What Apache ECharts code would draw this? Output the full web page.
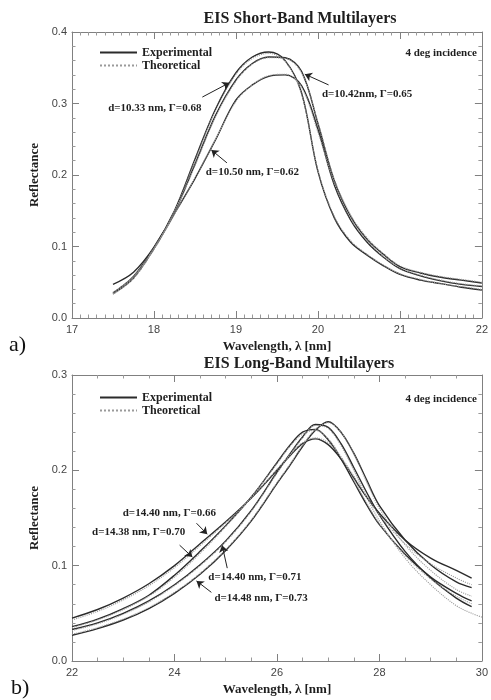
<!DOCTYPE html>
<html>
<head>
<meta charset="utf-8">
<script src="https://cdn.jsdelivr.net/npm/echarts@6/dist/echarts.min.js"></script>
<style>
html,body{margin:0;padding:0;background:#fff;}
#c{width:491px;height:700px;}
</style>
</head>
<body>
<div id="c"></div>
<script>
// ---------- DATA: Short-band (panel a) ----------
const sbWavelength = [17.5,17.75,18,18.25,18.5,18.75,19,19.2,19.4,19.6,19.8,20,20.2,20.4,20.6,20.8,21,21.25,21.5,21.75,22];
const sbExp1033 = [0.047,0.064,0.099,0.150,0.222,0.292,0.343,0.365,0.372,0.360,0.315,0.205,0.140,0.106,0.088,0.073,0.061,0.053,0.048,0.043,0.039];
const sbTh1033  = [0.036,0.058,0.098,0.149,0.220,0.290,0.341,0.363,0.370,0.359,0.313,0.207,0.142,0.108,0.089,0.074,0.062,0.054,0.048,0.044,0.040];
const sbExp1042 = [0.035,0.058,0.098,0.148,0.215,0.283,0.333,0.356,0.365,0.364,0.345,0.272,0.192,0.142,0.110,0.089,0.072,0.063,0.057,0.053,0.049];
const sbTh1042  = [0.034,0.057,0.097,0.147,0.213,0.281,0.331,0.355,0.364,0.363,0.343,0.274,0.194,0.144,0.112,0.090,0.073,0.064,0.058,0.054,0.050];
const sbExp1050 = [0.034,0.056,0.097,0.146,0.195,0.249,0.305,0.326,0.338,0.340,0.325,0.264,0.186,0.137,0.106,0.085,0.069,0.059,0.052,0.047,0.044];
const sbTh1050  = [0.033,0.055,0.096,0.145,0.196,0.250,0.303,0.326,0.339,0.341,0.323,0.260,0.189,0.139,0.108,0.086,0.070,0.060,0.053,0.048,0.045];
const sbXTicks = [17,18,19,20,21,22];
const sbYTicks = [0.0,0.1,0.2,0.3,0.4];

// ---------- DATA: Long-band (panel b) ----------
const lbWavelength = [22,22.5,23,23.5,24,24.5,25,25.5,26,26.25,26.5,26.75,27,27.25,27.5,27.75,28,28.5,29,29.5,29.8,30];
const lbExp066 = [0.045,0.054,0.066,0.081,0.100,0.123,0.146,0.171,0.200,0.215,0.228,0.233,0.227,0.212,0.192,0.172,0.155,0.127,0.108,0.095,0.087];
const lbTh066  = [0.043,0.052,0.064,0.079,0.098,0.121,0.145,0.171,0.201,0.216,0.229,0.234,0.229,0.214,0.194,0.173,0.153,0.123,0.102,0.087,0.080];
const lbExp070 = [0.036,0.044,0.055,0.069,0.090,0.115,0.142,0.172,0.208,0.226,0.240,0.243,0.232,0.212,0.188,0.164,0.143,0.112,0.088,0.071,0.063];
const lbTh070  = [0.035,0.043,0.054,0.068,0.088,0.113,0.141,0.172,0.207,0.225,0.238,0.242,0.233,0.214,0.190,0.166,0.144,0.111,0.086,0.068,0.060];
const lbExp071 = [0.033,0.040,0.050,0.063,0.080,0.101,0.126,0.158,0.198,0.217,0.235,0.248,0.245,0.228,0.203,0.177,0.153,0.115,0.087,0.066,0.057];
const lbTh071  = [0.032,0.039,0.049,0.062,0.079,0.100,0.125,0.157,0.197,0.216,0.234,0.247,0.244,0.226,0.200,0.172,0.147,0.108,0.080,0.058,0.050,0.046];
const lbExp073 = [0.027,0.034,0.043,0.055,0.071,0.091,0.116,0.147,0.186,0.205,0.225,0.242,0.251,0.240,0.218,0.190,0.163,0.127,0.101,0.083,0.077];
const lbTh073  = [0.028,0.035,0.044,0.056,0.072,0.092,0.117,0.148,0.187,0.206,0.226,0.243,0.250,0.240,0.217,0.188,0.160,0.122,0.095,0.075,0.068];
const lbXTicks = [22,24,26,28,30];
const lbYTicks = [0.0,0.1,0.2,0.3];

// ---------- annotation text ----------
const sbLabels = ['d=10.33 nm, \u0393=0.68','d=10.42nm, \u0393=0.65','d=10.50 nm, \u0393=0.62'];
const lbLabels = ['d=14.40 nm, \u0393=0.66','d=14.38 nm, \u0393=0.70','d=14.40 nm, \u0393=0.71','d=14.48 nm, \u0393=0.73'];

const SERIF = "'Liberation Serif','DejaVu Serif',serif";
const SANS = "'Liberation Sans','DejaVu Sans',sans-serif";
const EXP_COLOR = '#2b2b2b';
const TH_COLOR = '#9a9a9a';

function curve(name, wl, vals, axisIdx, kind) {
  return {
    type: 'line', name: name, xAxisIndex: axisIdx, yAxisIndex: axisIdx,
    data: vals.map((v, i) => [wl[i], v]),
    smooth: 0.35, symbol: 'none', silent: true, z: kind === 'exp' ? 3 : 4,
    lineStyle: kind === 'exp'
      ? { color: EXP_COLOR, width: 1.4, type: 'solid' }
      : { color: TH_COLOR, width: 1.1, type: 'dotted' },
    itemStyle: { color: kind === 'exp' ? EXP_COLOR : TH_COLOR }
  };
}

function annot(axisIdx, texts, textPos, arrows) {
  return {
    type: 'line', name: 'annot' + axisIdx, xAxisIndex: axisIdx, yAxisIndex: axisIdx,
    data: [], symbol: 'none', silent: true, z: 6,
    markPoint: {
      silent: true, animation: false,
      symbol: 'circle', symbolSize: 1, itemStyle: { color: 'rgba(0,0,0,0)' },
      data: texts.map((t, i) => ({
        coord: textPos[i], value: t,
        label: { show: true, position: 'inside', formatter: t, color: '#1e1e1e',
                 fontFamily: SERIF, fontWeight: 'bold', fontSize: 11 }
      }))
    },
    markLine: {
      silent: true, animation: false, symbol: ['none', 'arrow'], symbolSize: 7,
      label: { show: false },
      lineStyle: { color: '#222', width: 1, type: 'solid' },
      data: arrows.map(a => [{ coord: a[0] }, { coord: a[1] }])
    }
  };
}

function xAxes(grid, min, max, interval, minorSplit) {
  const base = {
    type: 'value', gridIndex: grid, min: min, max: max, interval: interval,
    splitLine: { show: false },
    axisLine: { show: true, onZero: false, lineStyle: { color: '#808080', width: 1 } },
    axisTick: { show: true, inside: true, length: 7, lineStyle: { color: '#808080' } },
    minorTick: { show: true, splitNumber: minorSplit, length: 3.5, lineStyle: { color: '#999' } },
  };
  return [
    Object.assign({}, base, {
      position: 'bottom',
      axisLabel: { show: true, color: '#444', fontFamily: SANS, fontSize: 11, margin: 6 },
      name: 'Wavelength, \u03bb [nm]', nameLocation: 'middle', nameGap: 22,
      nameTextStyle: { fontFamily: SERIF, fontWeight: 'bold', fontSize: 13, color: '#1e1e1e' }
    }),
    Object.assign({}, base, { position: 'top', axisLabel: { show: false } })
  ];
}
function yAxes(grid, min, max, interval, minorSplit) {
  const base = {
    type: 'value', gridIndex: grid, min: min, max: max, interval: interval,
    splitLine: { show: false },
    axisLine: { show: true, onZero: false, lineStyle: { color: '#808080', width: 1 } },
    axisTick: { show: true, inside: true, length: 7, lineStyle: { color: '#808080' } },
    minorTick: { show: true, splitNumber: minorSplit, length: 3.5, lineStyle: { color: '#999' } },
  };
  return [
    Object.assign({}, base, {
      position: 'left',
      axisLabel: { show: true, color: '#444', fontFamily: SANS, fontSize: 11, margin: 5,
                   formatter: v => v.toFixed(1) },
      name: 'Reflectance', nameLocation: 'middle', nameGap: 27, nameRotate: 90,
      nameTextStyle: { fontFamily: SERIF, fontWeight: 'bold', fontSize: 13, color: '#1e1e1e' }
    }),
    Object.assign({}, base, { position: 'right', axisLabel: { show: false } })
  ];
}

const chart = echarts.init(document.getElementById('c'), null, { renderer: 'canvas' });

const series = [
  curve('Experimental', sbWavelength, sbExp1033, 0, 'exp'),
  curve('Theoretical',  sbWavelength, sbTh1033, 0, 'th'),
  curve('Experimental', sbWavelength, sbExp1042, 0, 'exp'),
  curve('Theoretical',  sbWavelength, sbTh1042, 0, 'th'),
  curve('Experimental', sbWavelength, sbExp1050, 0, 'exp'),
  curve('Theoretical',  sbWavelength, sbTh1050, 0, 'th'),
  curve('Experimental', lbWavelength, lbExp066, 2, 'exp'),
  curve('Theoretical',  lbWavelength, lbTh066, 2, 'th'),
  curve('Experimental', lbWavelength, lbExp070, 2, 'exp'),
  curve('Theoretical',  lbWavelength, lbTh070, 2, 'th'),
  curve('Experimental', lbWavelength, lbExp071, 2, 'exp'),
  curve('Theoretical',  lbWavelength, lbTh071, 2, 'th'),
  curve('Experimental', lbWavelength, lbExp073, 2, 'exp'),
  curve('Theoretical',  lbWavelength, lbTh073, 2, 'th'),
  annot(0, sbLabels,
    [[18.01, 0.294], [20.60, 0.313], [19.20, 0.204]],
    [[[18.59, 0.309], [18.92, 0.329]],
     [[20.13, 0.326], [19.84, 0.341]],
     [[18.89, 0.217], [18.70, 0.235]]]),
  annot(2, lbLabels,
    [[23.90, 0.155], [23.30, 0.135], [25.57, 0.088], [25.69, 0.066]],
    [[[24.43, 0.1445], [24.64, 0.133]],
     [[24.10, 0.1215], [24.35, 0.109]],
     [[25.03, 0.0974], [24.93, 0.1215]],
     [[24.72, 0.072], [24.43, 0.084]]])
];

const legendBase = {
  data: ['Experimental', 'Theoretical'], orient: 'vertical', left: 94,
  itemWidth: 37, itemHeight: 10, itemGap: 0, selectedMode: false,
  itemStyle: { opacity: 0 },
  textStyle: { fontFamily: SERIF, fontWeight: 'bold', fontSize: 12, color: '#1e1e1e', lineHeight: 13 }
};

const option = {
  animation: false,
  backgroundColor: '#ffffff',
  grid: [
    { left: 72, top: 32, width: 412, height: 286 },
    { left: 72, top: 375, width: 412, height: 286 }
  ],
  xAxis: [].concat(xAxes(0, 17, 22, 1, 10), xAxes(1, 22, 30, 2, 4)),
  yAxis: [].concat(yAxes(0, 0, 0.4, 0.1, 5), yAxes(1, 0, 0.3, 0.1, 5)),
  legend: [
    Object.assign({}, legendBase, { top: 41 }),
    Object.assign({}, legendBase, { top: 386 })
  ],
  graphic: [
    { type: 'text', x: 300, y: 19, style: { text: 'EIS Short-Band Multilayers', fill: '#1e1e1e',
      font: "bold 16px " + SERIF, textAlign: 'center', textVerticalAlign: 'middle' } },
    { type: 'text', x: 299, y: 364, style: { text: 'EIS Long-Band Multilayers', fill: '#1e1e1e',
      font: "bold 16px " + SERIF, textAlign: 'center', textVerticalAlign: 'middle' } },
    { type: 'text', x: 477, y: 53, style: { text: '4 deg incidence', fill: '#1e1e1e',
      font: "bold 11px " + SERIF, textAlign: 'right', textVerticalAlign: 'middle' } },
    { type: 'text', x: 477, y: 399, style: { text: '4 deg incidence', fill: '#1e1e1e',
      font: "bold 11px " + SERIF, textAlign: 'right', textVerticalAlign: 'middle' } },
    { type: 'text', x: 9, y: 345, style: { text: 'a)', fill: '#111',
      font: "22px " + SERIF, textAlign: 'left', textVerticalAlign: 'middle' } },
    { type: 'text', x: 11, y: 688, style: { text: 'b)', fill: '#111',
      font: "22px " + SERIF, textAlign: 'left', textVerticalAlign: 'middle' } }
  ],
  series: series
};
chart.setOption(option);
</script>
</body>
</html>
